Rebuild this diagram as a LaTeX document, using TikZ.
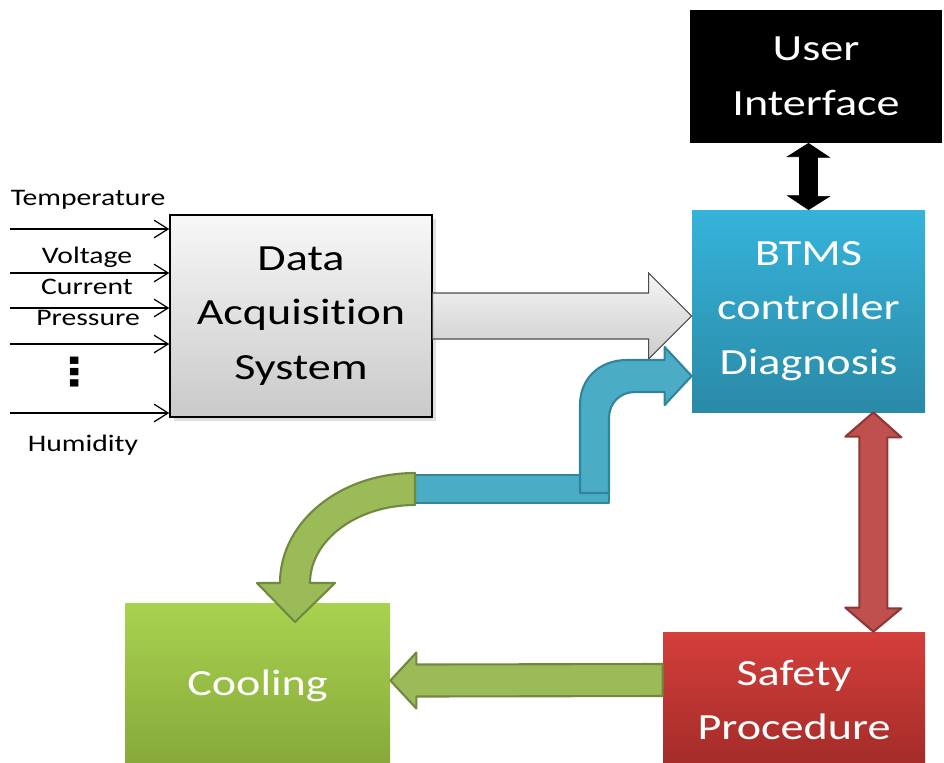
\documentclass[tikz,border=0pt]{standalone}
\usepackage{fontspec}
\setmainfont{Carlito}[FakeStretch=1.25, Ligatures=NoCommon]
\newfontfamily\dotsfont{DejaVu Sans}[FakeStretch=1.25]
\usetikzlibrary{calc,shadows,arrows.meta,positioning}

\definecolor{btmstop}{HTML}{36B3DA}
\definecolor{btmsbot}{HTML}{2A8AA7}
\definecolor{cooltop}{HTML}{A8D24F}
\definecolor{coolbot}{HTML}{86A83A}
\definecolor{safetop}{HTML}{D43F3B}
\definecolor{safebot}{HTML}{A22B28}
\definecolor{greenfill}{HTML}{9BBB59}
\definecolor{greendraw}{HTML}{71893F}
\definecolor{bluefill}{HTML}{4BACC6}
\definecolor{bluedraw}{HTML}{31849B}
\definecolor{redfill}{HTML}{C0504D}
\definecolor{reddraw}{HTML}{8C3836}

\def\pxu{0.02cm}

\tikzset{
  block/.style={rectangle, align=center, inner sep=0pt, text=white,
    font=\fontsize{21}{31}\selectfont},
  inlabel/.style={inner sep=0pt, font=\fontsize{13.5}{17}\selectfont},
  inarrow/.style={-{Straight Barb[length=8pt,width=10pt]}, line width=0.7pt},
  fatgray/.style={top color=gray!8, bottom color=gray!40, draw=gray!60!black, line width=0.6pt},
  fatgreen/.style={fill=greenfill, draw=greendraw, line width=1.2pt, line join=round},
  fatblue/.style={fill=bluefill, draw=bluedraw, line width=1.2pt, line join=round},
  fatred/.style={fill=redfill, draw=reddraw, line width=1.2pt, line join=round}
}

\begin{document}
\begin{tikzpicture}[x=0.02cm, y=-0.02cm]
  \useasboundingbox (0,0) rectangle (944,762);

  \node[block, minimum width=252*\pxu, minimum height=133*\pxu, fill=black] (ui) at (816,76.5) {User\\Interface};
  \node[block, minimum width=233*\pxu, minimum height=202*\pxu, top color=btmstop, bottom color=btmsbot] (btms) at (808.5,311) {BTMS\\controller\\Diagnosis};
  \node[block, minimum width=262*\pxu, minimum height=202*\pxu, text=black, draw=black, line width=0.8pt,
        top color=gray!6, bottom color=gray!42, drop shadow={opacity=0.25, shadow xshift=2pt, shadow yshift=-2pt}] (daq) at (301,316) {Data\\Acquisition\\System};
  \node[block, minimum width=265*\pxu, minimum height=165*\pxu, top color=cooltop, bottom color=coolbot] (cooling) at (257.5,685.5) {Cooling};
  \node[block, minimum width=262*\pxu, minimum height=136*\pxu, top color=safetop, bottom color=safebot] (safety) at (794,700) {Safety\\Procedure};

  \node[inlabel] (temp) at (88,200) {Temperature};
  \node[inlabel] (volt) at (87,257) {Voltage};
  \node[inlabel] (curr) at (87,287) {Current};
  \node[inlabel] (press) at (88,318) {Pressure};
  \node[inlabel, font=\dotsfont\fontsize{22}{22}\bfseries\selectfont] (dots) at (75,372) {⋮};
  \node[inlabel] (humid) at (83,445) {Humidity};

  \foreach \yy/\nm in {229/t, 273/v, 308/c, 344/p, 413/h} {
    \coordinate (in\nm) at (10,\yy);
    \draw[inarrow] (in\nm) -- (in\nm -| daq.west);
  }

  \coordinate (gtip) at ($(cooling.east)+(0,-5)$);
  \coordinate (btip) at ($(btms.west)+(0,65)$);

  \draw[fatgray] ($(daq.east)+(0,-23)$) -- ($(daq.east -| btms.west)+(-43,-23)$) -- ($(daq.east -| btms.west)+(-43,-43)$)
    -- (daq.east -| btms.west) -- ($(daq.east -| btms.west)+(-43,43)$) -- ($(daq.east -| btms.west)+(-43,23)$)
    -- ($(daq.east)+(0,23)$) -- cycle;

  \draw[fatblue] (410,475) rectangle (609,503);
  \draw[fatblue] (580,493) -- (580,405) .. controls (580,378) and (600,360) .. (627,360) -- ($(btip)+(-27,-16)$)
    -- ($(btip)+(-27,-29)$) -- (btip) -- ($(btip)+(-27,29)$) -- ($(btip)+(-27,16)$) -- (635,392)
    .. controls (620,392) and (609,403) .. (609,418) -- (609,493) -- cycle;

  \draw[fatgreen] (415,473) .. controls (340,473) and (280,522) .. (280,583) -- (257,583) -- (295,622)
    -- (335,583) -- (310,583) .. controls (310,540) and (357,505) .. (415,505) -- cycle;

  \draw[fatgreen] ($(safety.west)+(0,-36)$) -- ($(gtip)+(26,-16)$) -- ($(gtip)+(26,-28)$) -- (gtip)
    -- ($(gtip)+(26,28)$) -- ($(gtip)+(26,16)$) -- ($(safety.west)+(0,-4)$) -- cycle;

  \draw[fill=black] (btms.north |- ui.south) -- ++(21,14) -- ++(-12,0) -- ++(0,39) -- ++(12,0) -- (btms.north)
    -- ++(-21,-14) -- ++(12,0) -- ++(0,-39) -- ++(-12,0) -- cycle;

  \draw[fatred] ($(btms.south east)+(-52,0)$) -- ++(28,25) -- ++(-14,0) -- ++(0,171) -- ++(14,0)
    -- ($(safety.north east)+(-52,0)$) -- ++(-28,-24) -- ++(14,0) -- ++(0,-171) -- ++(-14,0) -- cycle;
\end{tikzpicture}
\end{document}
